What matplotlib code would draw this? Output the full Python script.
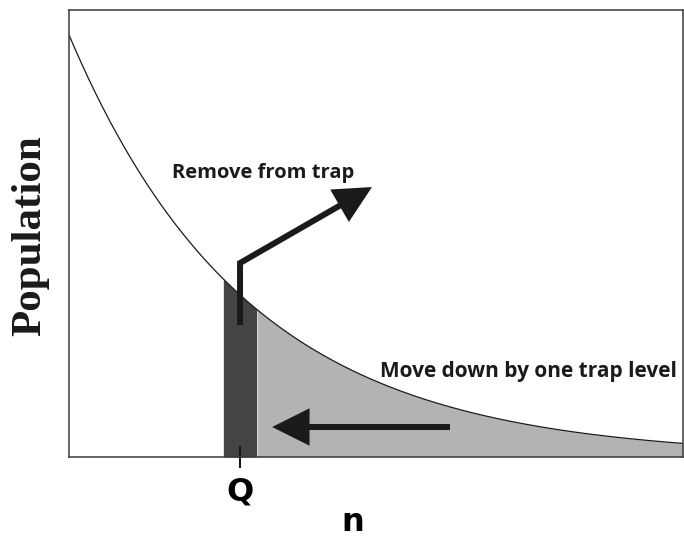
import numpy as np
import matplotlib
matplotlib.use("Agg")
import matplotlib.pyplot as plt
from matplotlib.patches import FancyArrowPatch, ArrowStyle
from matplotlib.path import Path

# ---- data ----
n_min, n_max = -0.12, 18.26       # trap level axis
tau = 5.35                        # decay length of the population curve
q_level = 5                       # trap level Q
q_label = "Q"
x_label = "n"
y_label = "Population"
remove_text = "Remove from trap"
move_text = "Move down by one trap level"

# arrow anchors (data units)
remove_arrow = [(5.0, 0.320), (5.0, 0.470), (8.95, 0.654)]
move_arrow = [(11.29, 0.0727), (5.96, 0.0727)]

LIGHT = "#b3b3b3"
DARK = "#444444"
INK = "#1a1a1a"
SPINE = "#3a3a3a"


def population(n):
    return np.exp(-n / tau)


fig = plt.figure(figsize=(6.84, 5.37), dpi=100)
ax = fig.add_axes([69 / 684, 80 / 537, 614 / 684, 447 / 537])

n = np.linspace(n_min, n_max, 600)
p = population(n)

# filled regions under the curve
right = n >= q_level + 0.5
ax.fill_between(n[right], 0, p[right], color=LIGHT, lw=0)
band = np.linspace(q_level - 0.5, q_level + 0.5, 50)
ax.fill_between(band, 0, population(band), color=DARK, lw=0)

ax.plot(n, p, color=INK, lw=0.9)

# arrows
arrow_style = ArrowStyle("-|>", head_length=20, head_width=10)
for pts in (remove_arrow, move_arrow):
    arr = FancyArrowPatch(path=Path(pts), arrowstyle=arrow_style,
                          mutation_scale=1, lw=4.3, color=INK,
                          joinstyle="miter", capstyle="butt")
    ax.add_patch(arr)

ax.text(2.96, 0.676, remove_text, fontsize=14.5, fontweight="bold",
        family="Open Sans", color=INK, va="baseline", ha="left")
ax.text(9.19, 0.194, move_text, fontsize=15, fontweight="bold",
        family="Open Sans", color=INK, va="baseline", ha="left")

ax.set_xlim(n_min, n_max)
ax.set_ylim(0, 1.083)
ax.set_yticks([])
ax.set_xticks([q_level])
ax.set_xticklabels([q_label], fontsize=23, fontweight="bold")
ax.tick_params(axis="x", direction="inout", length=16, width=1.5,
               color=INK, pad=6)
ax.set_xlabel(x_label, fontsize=23, fontweight="bold", labelpad=0)
ax.xaxis.set_label_coords((353 - 69) / 614, -0.112)

for sp in ax.spines.values():
    sp.set_color(SPINE)
    sp.set_linewidth(1.1)

fig.text(30 / 684, 1 - 236 / 537, y_label, rotation=90, ha="center",
         va="center", fontsize=31, fontweight="bold",
         family="Liberation Serif", color=INK)

fig.savefig("out.png", dpi=100)
